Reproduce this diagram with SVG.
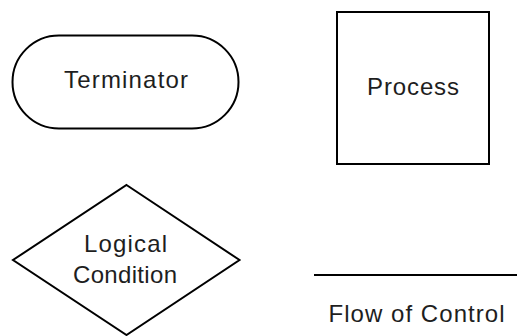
<svg xmlns="http://www.w3.org/2000/svg" width="517" height="336" viewBox="0 0 517 336">
  <style>
    .shape { fill: #ffffff; stroke: #000000; stroke-width: 2; }
    .label { font-family: "Liberation Sans Narrow", "Liberation Sans", Arial, sans-serif; font-size: 24px; fill: #1e1e1e; text-anchor: middle; }
    .flow { stroke: #000000; stroke-width: 2; fill: none; }
  </style>
  <rect width="517" height="336" fill="#ffffff"/>

  <g id="terminator">
    <rect class="shape" x="12.5" y="35.5" width="226" height="93" rx="46.5" ry="46.5"/>
    <text class="label" x="126" y="88" textLength="124" lengthAdjust="spacing">Terminator</text>
  </g>

  <g id="process">
    <rect class="shape" x="337" y="12" width="152" height="152"/>
    <text class="label" x="413" y="95" textLength="92" lengthAdjust="spacing">Process</text>
  </g>

  <g id="logical-condition">
    <polygon class="shape" points="126.5,185 239.5,260 126.5,335 13,260"/>
    <text class="label" x="125.5" y="252" textLength="83" lengthAdjust="spacing">Logical</text>
    <text class="label" x="125" y="283" textLength="104" lengthAdjust="spacing">Condition</text>
  </g>

  <g id="connectors">
    <line class="flow" x1="314" y1="275" x2="517" y2="275"/>
    <text class="label" x="416.5" y="322" textLength="176" lengthAdjust="spacing">Flow of Control</text>
  </g>
</svg>
